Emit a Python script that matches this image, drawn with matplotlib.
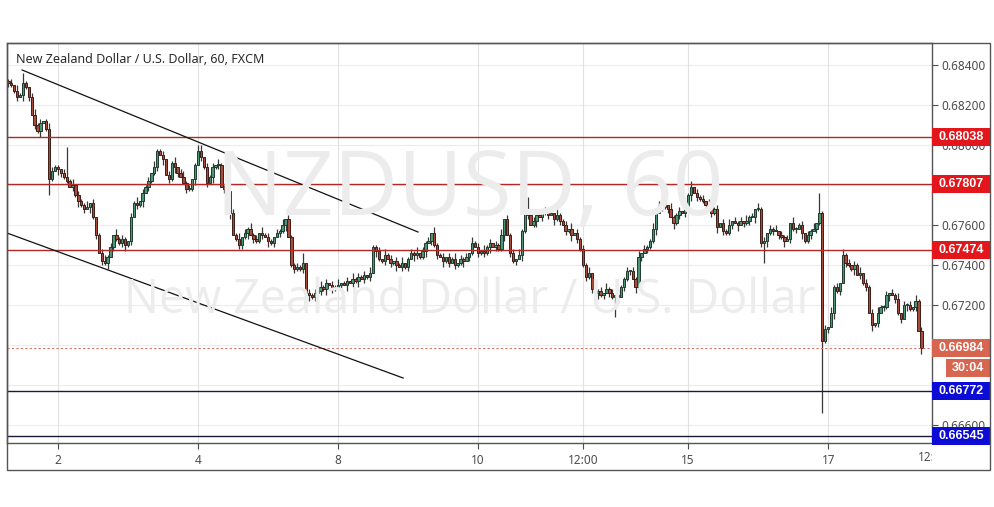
import matplotlib
matplotlib.use('Agg')
import matplotlib.pyplot as plt
from matplotlib.patches import Rectangle
import matplotlib.transforms as mtransforms

plt.rcParams['font.family'] = ['Noto Sans', 'DejaVu Sans']

# ---------------- data ----------------
TITLE = "New Zealand Dollar / U.S. Dollar, 60, FXCM"
WATERMARK_1 = "NZDUSD, 60"
WATERMARK_2 = "New Zealand Dollar / U.S. Dollar"

START_INDEX = -17          # hourly bar index of the first candle (0 = day 2, 00:00)
FIRST_OPEN = 6832          # pips (x 1e-4)
CLOSE_PIPS = [
    6831, 6830, 6827, 6824, 6825, 6831, 6829, 6824, 6815, 6810, 6807, 6811, 6812, 6808, 6783, 6787, 6789,
    6788, 6786, 6784, 6782, 6779, 6780, 6775, 6772, 6770, 6768, 6769, 6771, 6764, 6755, 6746, 6742, 6741,
    6744, 6749, 6755, 6753, 6751, 6753, 6750, 6752,
    6764, 6771, 6770, 6772, 6776, 6779, 6782, 6786, 6789, 6797, 6795, 6793, 6785, 6783, 6791, 6789, 6786,
    6784, 6781, 6778, 6778, 6783, 6790, 6797, 6794, 6789, 6781, 6784, 6789, 6790, 6790, 6779, 6778, 6777,
    6766, 6755,
    6753, 6750, 6754, 6756, 6758, 6755, 6753, 6752, 6756, 6755, 6754, 6752, 6751, 6754, 6756, 6757, 6760,
    6763, 6754, 6740, 6738, 6739, 6738,
    6741, 6726, 6725, 6724, 6726, 6727, 6729, 6728, 6731, 6730, 6728, 6729, 6730, 6731, 6730, 6732, 6731,
    6733, 6732, 6734, 6733, 6735, 6734, 6736,
    6749, 6747, 6743, 6742, 6745, 6743, 6741, 6742, 6740, 6739, 6741, 6739, 6743, 6746, 6745, 6746, 6744,
    6747, 6751, 6752, 6756, 6750, 6745, 6744,
    6742, 6744, 6741, 6743, 6740, 6741, 6743, 6742, 6744, 6746, 6751, 6749, 6746, 6747, 6746, 6749, 6751,
    6749, 6750, 6748, 6755, 6763, 6755, 6746, 6742, 6743, 6745,
    6757, 6766, 6765, 6760, 6762, 6765, 6764, 6766, 6767, 6765, 6766, 6763, 6765, 6762, 6760, 6757, 6758,
    6755, 6756, 6753, 6748, 6740, 6734, 6736,
    6728, 6726, 6727, 6725, 6726, 6728, 6726, 6724, 6725, 6724, 6729, 6733, 6737, 6737, 6733, 6729, 6744,
    6746, 6748, 6749, 6752,
    6758, 6766, 6770, 6769, 6770, 6768, 6764, 6761, 6765, 6767, 6766, 6768, 6775, 6779, 6776, 6774, 6773,
    6772, 6770, 6769, 6766, 6768, 6759, 6761, 6757, 6756, 6760, 6762, 6761, 6760, 6762, 6761, 6762, 6764,
    6764, 6768, 6768,
    6751, 6752, 6756, 6758, 6757, 6757, 6755, 6754, 6752, 6753, 6761, 6758, 6758, 6760, 6756, 6752, 6755,
    6757, 6758, 6761, 6766,
    6702, 6708, 6709, 6716, 6729, 6727, 6731, 6745, 6741, 6740, 6738, 6740, 6735, 6736, 6731, 6729, 6716,
    6710, 6711, 6716, 6719, 6719, 6725, 6726, 6725, 6723, 6716, 6713, 6720, 6720, 6718, 6719, 6722, 6707,
    6698.4,
]
UP_WICK = ("12031210231201321102" "21302113020123120312" "10213021203112021302" "31201230212031120213"
           "02131203121021302112" "13021203120213012031" "21203112031202130121" "30212031120213021203"
           "12031202130212031120" "21302120311203021213" "02120312031120213021" "13021203112021302120"
           "31120213021203120312" "02130212031120213021" "20312031202130212031" "12021302120312")
DN_WICK = ("21120312021301210321" "10213120312021302112" "31202130211203021320" "02113021203120213012"
           "21302112031202130121" "12031202130211203021" "30212031120213021203" "21130212031202113021"
           "02121302113021203120" "13021203120213021121" "20312021130212031202" "11302120312021302113"
           "02130211203021203121" "31202130212031120213" "12031202113021203120" "21302120311203")
BIG_UP = {-12: 5, 3: 15, 48: 3, 84: 5, 161: 8, 217: 3, 261: 10}
BIG_DN = {-3: 8, 191: 10, 242: 10, 262: 36}

TIME_TICKS = [0, 48, 96, 144, 180, 216, 264]
TIME_LABELS = ["2", "4", "8", "10", "12:00", "15", "17"]
CUT_TICK = 300
CUT_LABEL = "12:00"
PRICE_TICKS = [0.666, 0.668, 0.670, 0.672, 0.674, 0.676, 0.678, 0.680, 0.682, 0.684]
PRICE_LABELED = [0.666, 0.672, 0.674, 0.676, 0.680, 0.682, 0.684]

LEVELS_RED = [0.68038, 0.67807, 0.67474]
LEVELS_BLUE = [0.66772, 0.66545]
LAST_PRICE = 0.66984
COUNTDOWN = "30:04"

TREND_UPPER = [(-12.3, 0.68375), (123.4, 0.67565)]
TREND_LOWER = [(-17.5, 0.67560), (118.3, 0.66835)]

# ---------------- figure ----------------
W, H = 995, 507
fig = plt.figure(figsize=(W / 100, H / 100), dpi=100)
fig.patch.set_facecolor('white')
L, R, T, B = 7, 932, 43, 443
ax = fig.add_axes([L / W, 1 - B / H, (R - L) / W, (B - T) / H])
ax.set_facecolor('white')
ax.set_xlim(-17.48, 299.6)
ax.set_ylim(0.6651, 0.6851)

# grid
for p in PRICE_TICKS:
    ax.axhline(p, color='#ececec', lw=0.8, zorder=0)
for t in TIME_TICKS:
    ax.axvline(t, color='#e2e2e2', lw=0.8, zorder=0)

# watermark
cx = (L + R) / 2 / W
fig.text(cx, 1 - 192 / H, WATERMARK_1, ha='center', va='center', fontsize=64,
         family='Open Sans', color='#ececec', zorder=0)
fig.text(cx, 1 - 300 / H, WATERMARK_2, ha='center', va='center', fontsize=33.5,
         family='Open Sans', color='#ececec', zorder=0)

# candles
n = len(CLOSE_PIPS)
up_w = [int(c) for c in UP_WICK.ljust(n, '1')[:n]]
dn_w = [int(c) for c in DN_WICK.ljust(n, '1')[:n]]
prev = FIRST_OPEN
for k, c in enumerate(CLOSE_PIPS):
    i = START_INDEX + k
    o = prev
    hi = max(o, c) + BIG_UP.get(i, up_w[k])
    lo = min(o, c) - BIG_DN.get(i, dn_w[k])
    bull = c >= o
    ax.vlines(i, lo / 1e4, hi / 1e4, color='#383838', lw=0.9, zorder=2)
    bot = min(o, c) / 1e4
    hgt = max(abs(c - o), 0.5) / 1e4
    ax.add_patch(Rectangle((i - 0.4, bot), 0.8, hgt,
                           facecolor='#4c9676' if bull else '#a84c3c',
                           edgecolor='#1d3b2e' if bull else '#3f1c16',
                           lw=0.7, zorder=3))
    prev = c

# horizontal levels
for p in LEVELS_RED:
    ax.axhline(p, color='#b02828', lw=1.0, zorder=4)
for p in LEVELS_BLUE:
    ax.axhline(p, color='#1a1a3c', lw=1.0, zorder=4)
ax.axhline(LAST_PRICE, color='#d87563', lw=0.8, ls=(0, (2, 2)), zorder=4)

# trend lines
for ln in (TREND_UPPER, TREND_LOWER):
    ax.plot([ln[0][0], ln[1][0]], [ln[0][1], ln[1][1]], color='#111111', lw=0.9, zorder=5)

# axes styling
for s in ax.spines.values():
    s.set_color('#555555')
    s.set_linewidth(1.0)
ax.yaxis.tick_right()
ax.set_yticks(PRICE_TICKS)
ax.set_yticklabels([f"{p:.5f}" if p in PRICE_LABELED else "" for p in PRICE_TICKS])
ax.set_xticks(TIME_TICKS)
ax.set_xticklabels(TIME_LABELS)
ax.tick_params(axis='both', colors='#4d4d4d', labelsize=8.5, length=4, width=0.8, direction='out')
ax.tick_params(axis='y', pad=3, labelcolor='#4d4d4d')
ax.tick_params(axis='x', pad=4, labelcolor='#4d4d4d')

# cut-off label at the right edge
txt = ax.text(CUT_TICK, -0.036, CUT_LABEL, ha='center', va='center', fontsize=8.5, color='#4d4d4d',
              transform=mtransforms.blended_transform_factory(ax.transData, ax.transAxes))
txt.set_clip_on(True)
txt.set_clip_box(mtransforms.Bbox([[0, 0], [R, H]]))

# title
fig.text(16 / W, 1 - 60 / H, TITLE, ha='left', va='center', fontsize=9, color='#2a2a2a')

# price labels on the scale
trans = mtransforms.blended_transform_factory(ax.transAxes, ax.transData)
bw = 58 / (R - L)
bh = 18 / 20000


def tag(y, label, color, x0=1.0, w=bw):
    ax.add_patch(Rectangle((x0, y - bh / 2), w, bh, transform=trans, facecolor=color,
                           edgecolor='none', clip_on=False, zorder=10))
    ax.text(x0 + w / 2, y, label, transform=trans, ha='center', va='center', color='white',
            fontsize=9, fontweight='bold', family=['Liberation Sans', 'DejaVu Sans'],
            clip_on=False, zorder=11)


for p in LEVELS_RED:
    tag(p, f"{p:.5f}", '#e3161b')
for p in LEVELS_BLUE:
    tag(p, f"{p:.5f}", '#0c0cd6')
tag(LAST_PRICE, f"{LAST_PRICE:.5f}", '#d8654f')
tag(LAST_PRICE - 0.001, COUNTDOWN, '#d8654f', x0=1.0 + 14 / (R - L), w=44 / (R - L))

# outer frame
fig.add_artist(Rectangle((L / W, 1 - 470 / H), (990 - L) / W, (470 - T) / H, transform=fig.transFigure,
                         fill=False, edgecolor='#555555', lw=1.0))

fig.savefig('out.png', dpi=100)
